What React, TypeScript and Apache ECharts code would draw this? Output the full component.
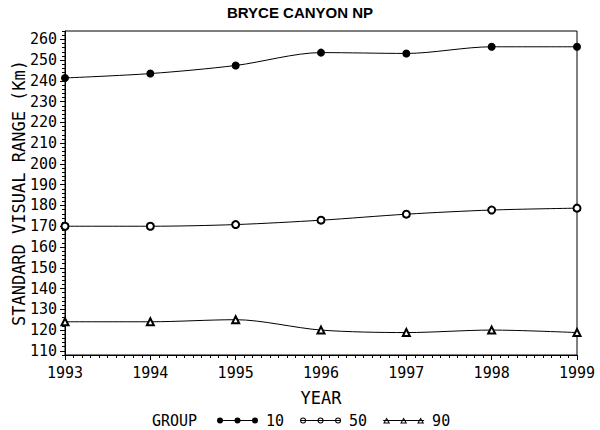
import React, { useEffect, useRef } from "react";
import * as echarts from "echarts";

const years = [1993, 1994, 1995, 1996, 1997, 1998, 1999];
const group10 = [241.4, 243.5, 247.4, 253.6, 253.2, 256.4, 256.4];
const group50 = [170.0, 170.0, 170.8, 172.9, 175.8, 177.8, 178.7];
const group90 = [124.0, 124.0, 125.0, 120.0, 118.8, 120.0, 118.8];
const groupNames = ["10", "50", "90"];
const yTickLabels = [110, 120, 130, 140, 150, 160, 170, 180, 190, 200, 210, 220, 230, 240, 250, 260];

const MONO = "DejaVu Sans Mono";

function circlePath(cx: number, cy: number, r: number, cw: boolean) {
  const s = cw ? 1 : 0;
  return `M${cx - r} ${cy}A${r} ${r} 0 1 ${s} ${cx + r} ${cy}A${r} ${r} 0 1 ${s} ${cx - r} ${cy}Z`;
}

const lineRect = "M0 2.5H41V3.5H0Z";
const dotCx = [3, 20.5, 38];
const iconFilled =
  "path://" + lineRect + dotCx.map((c) => circlePath(c, 3, 3, true)).join("");
const iconHollow =
  "path://" +
  lineRect +
  dotCx.map((c) => circlePath(c, 3, 3, true) + circlePath(c, 3, 2, false)).join("");
const triCx = [3.5, 20.5, 37.5];
const iconTri =
  "path://" +
  lineRect +
  triCx
    .map(
      (c) =>
        `M${c} 0L${c + 3.5} 6L${c - 3.5} 6Z` +
        `M${c} 1.98L${c - 1.76} 5L${c + 1.76} 5Z`
    )
    .join("");

const Y_MIN = 108;
const Y_MAX = 264;
const Y_MINOR = 2;
const Y_MAJOR_MIN = yTickLabels[0];
const Y_MAJOR_MAX = yTickLabels[yTickLabels.length - 1];
const X_MIN = years[0];
const X_MAX = years[years.length - 1];

const GRID_TOP = 31;
const GRID_BOTTOM = 75;
const GRID_LEFT = 65;
const GRID_RIGHT = 23;
const CHART_H = 430;

export default function App() {
  const ref = useRef<HTMLDivElement>(null);
  useEffect(() => {
    document.body.style.margin = "0";
    if (!ref.current) return;
    const chart = echarts.init(ref.current, null, { renderer: "svg" });
    const toData = (vals: number[]) => years.map((y, i) => [y, vals[i]]);
    const labelStyle = { fontFamily: MONO, fontSize: 15, color: "#000" };
    // second grid aligned so that 110..260 lands on the same pixels as in the main grid
    const pxPerUnit = (CHART_H - GRID_TOP - GRID_BOTTOM) / (Y_MAX - Y_MIN);
    const grid2Top = GRID_TOP + (Y_MAX - Y_MAJOR_MAX) * pxPerUnit;
    const grid2Bottom = GRID_BOTTOM + (Y_MAJOR_MIN - Y_MIN) * pxPerUnit;
    chart.setOption({
      animation: false,
      backgroundColor: "#fff",
      textStyle: { fontFamily: MONO, color: "#000" },
      title: {
        text: "BRYCE CANYON NP",
        left: "center",
        top: 5,
        padding: 0,
        textStyle: { fontFamily: "Liberation Sans", fontWeight: "bold", fontSize: 15, color: "#000" },
      },
      grid: [
        { left: GRID_LEFT, right: GRID_RIGHT, top: GRID_TOP, bottom: GRID_BOTTOM, show: true, borderColor: "#000", borderWidth: 1, backgroundColor: "transparent" },
        { left: GRID_LEFT, right: GRID_RIGHT, top: grid2Top, bottom: grid2Bottom, show: false },
      ],
      xAxis: [
        {
          gridIndex: 0, type: "value", min: X_MIN, max: X_MAX, interval: 1, position: "bottom",
          name: "YEAR", nameLocation: "middle", nameGap: 34,
          nameTextStyle: { fontFamily: MONO, fontSize: 17, color: "#000" },
          axisLine: { show: true, lineStyle: { color: "#000", width: 1 } },
          axisTick: { show: true, inside: false, length: 5, lineStyle: { color: "#000", width: 1 } },
          axisLabel: { ...labelStyle, margin: 10, formatter: (v: number) => String(v) },
          splitLine: { show: false },
        },
        {
          gridIndex: 0, type: "value", min: X_MIN, max: X_MAX, interval: 0.1, position: "bottom",
          axisLine: { show: false },
          axisTick: { show: true, inside: false, length: 3, lineStyle: { color: "#000", width: 1 } },
          axisLabel: { show: false }, splitLine: { show: false },
        },
        { gridIndex: 1, type: "value", min: X_MIN, max: X_MAX, show: false },
      ],
      yAxis: [
        {
          gridIndex: 0, type: "value", min: Y_MIN, max: Y_MAX, interval: Y_MINOR, position: "left",
          name: "STANDARD VISUAL RANGE (Km)", nameLocation: "middle", nameGap: 38,
          nameTextStyle: { fontFamily: MONO, fontSize: 17, color: "#000" },
          axisLine: { show: true, lineStyle: { color: "#000", width: 1 } },
          axisTick: { show: true, inside: false, length: 3, lineStyle: { color: "#000", width: 1 } },
          axisLabel: { show: false }, splitLine: { show: false },
        },
        {
          gridIndex: 1, type: "value", min: Y_MAJOR_MIN, max: Y_MAJOR_MAX, interval: 10, position: "left",
          axisLine: { show: false },
          axisTick: { show: true, inside: false, length: 5, lineStyle: { color: "#000", width: 1 } },
          axisLabel: { ...labelStyle, margin: 8 }, splitLine: { show: false },
        },
      ],
      legend: {
        left: 217, top: 413, padding: 0, itemGap: 16, itemWidth: 41, itemHeight: 6, selectedMode: false,
        textStyle: { fontFamily: MONO, fontSize: 15, color: "#000", padding: [0, 0, 0, 3] },
        data: [
          { name: groupNames[0], icon: iconFilled, itemStyle: { color: "#000", borderWidth: 0 } },
          { name: groupNames[1], icon: iconHollow, itemStyle: { color: "#000", borderWidth: 0 } },
          { name: groupNames[2], icon: iconTri, itemStyle: { color: "#000", borderWidth: 0 } },
        ],
      },
      graphic: [
        { type: "text", left: 152, top: 413, style: { text: "GROUP", fontFamily: MONO, fontSize: 15, fill: "#000" } },
      ],
      series: [
        { name: groupNames[0], type: "line", xAxisIndex: 0, yAxisIndex: 0, data: toData(group10), smooth: 0.3, symbol: "circle", symbolSize: 8, lineStyle: { color: "#000", width: 1 }, itemStyle: { color: "#000" } },
        { name: groupNames[1], type: "line", xAxisIndex: 0, yAxisIndex: 0, data: toData(group50), smooth: 0.3, symbol: "emptyCircle", symbolSize: 7, lineStyle: { color: "#000", width: 1 }, itemStyle: { color: "#000", borderColor: "#000", borderWidth: 1 } },
        { name: groupNames[2], type: "line", xAxisIndex: 0, yAxisIndex: 0, data: toData(group90), smooth: 0.3, symbol: "emptyTriangle", symbolSize: 7, lineStyle: { color: "#000", width: 1 }, itemStyle: { color: "#000", borderColor: "#000", borderWidth: 1 } },
      ],
    });
    return () => chart.dispose();
  }, []);
  return <div ref={ref} style={{ width: 600, height: 430 }} />;
}
